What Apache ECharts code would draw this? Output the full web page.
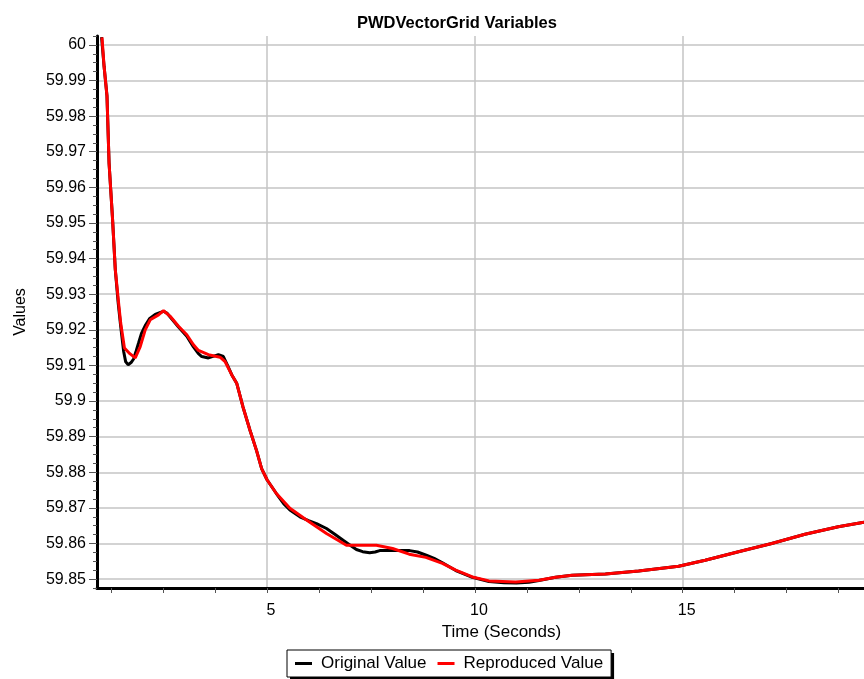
<!DOCTYPE html>
<html>
<head>
<meta charset="utf-8">
<script src="https://cdn.jsdelivr.net/npm/echarts@6/dist/echarts.min.js"></script>
<style>
html, body { margin: 0; padding: 0; background: #fff; }
#chart { width: 864px; height: 679px; }
</style>
</head>
<body>
<div id="chart"></div>
<script>
// time (s) / value pairs
var origTime = [1.02, 1.08, 1.15, 1.20, 1.28, 1.35, 1.42, 1.48, 1.55, 1.60, 1.66, 1.73, 1.79, 1.85, 1.91, 1.98,
    2.07, 2.18, 2.31, 2.42, 2.51, 2.60, 2.67, 2.87, 3.07, 3.23, 3.35, 3.43, 3.59, 3.72, 3.83, 3.95,
    4.05, 4.15, 4.27, 4.42, 4.59, 4.75, 4.87, 5.00, 5.22, 5.40, 5.55, 5.79, 6.00, 6.19, 6.43, 6.63,
    6.83, 7.00, 7.15, 7.30, 7.47, 7.60, 7.71, 8.00, 8.43, 8.62, 8.83, 9.02, 9.22, 9.54, 9.94, 10.34,
    10.70, 11.00, 11.30, 11.54, 11.94, 12.34, 13.14, 13.94, 14.90, 15.54, 16.34, 17.14, 17.94, 18.74, 19.36];
var origValue = [60.0022, 59.9940, 59.9857, 59.9669, 59.9519, 59.9369, 59.9275, 59.9210, 59.9140, 59.9110, 59.9102, 59.9108, 59.9118, 59.9140, 59.9163, 59.9190,
    59.9212, 59.9232, 59.9243, 59.9248, 59.9252, 59.9246, 59.9236, 59.9208, 59.9182, 59.9152, 59.9133, 59.9125, 59.9121, 59.9126, 59.9130, 59.9125,
    59.9100, 59.9074, 59.9050, 59.8984, 59.8918, 59.8860, 59.8810, 59.8779, 59.8741, 59.8712, 59.8694, 59.8675, 59.8664, 59.8656, 59.8642, 59.8626,
    59.8609, 59.8595, 59.8583, 59.8577, 59.8574, 59.8576, 59.8580, 59.8580, 59.8580, 59.8576, 59.8567, 59.8558, 59.8546, 59.8524, 59.8505, 59.8493,
    59.8490, 59.8489, 59.8491, 59.8496, 59.8505, 59.8511, 59.8514, 59.8523, 59.8536, 59.8553, 59.8577, 59.8600, 59.8626, 59.8647, 59.8660];

var reprTime = [1.03, 1.08, 1.15, 1.20, 1.28, 1.35, 1.43, 1.48, 1.57, 1.70, 1.83, 1.95, 2.07, 2.19, 2.39, 2.51,
    2.67, 2.87, 3.07, 3.23, 3.35, 3.59, 3.87, 3.99, 4.15, 4.27, 4.42, 4.59, 4.75, 4.87, 5.00, 5.22,
    5.55, 5.95, 6.43, 6.91, 7.30, 7.63, 8.02, 8.42, 8.82, 9.22, 9.54, 9.94, 10.34, 10.98, 11.54, 11.94,
    12.34, 13.14, 13.94, 14.90, 15.54, 16.34, 17.14, 17.94, 18.74, 19.36];
var reprValue = [60.0021, 59.9940, 59.9857, 59.9669, 59.9519, 59.9369, 59.9275, 59.9219, 59.9149, 59.9133, 59.9121, 59.9153, 59.9200, 59.9228, 59.9242, 59.9254,
    59.9238, 59.9210, 59.9186, 59.9158, 59.9142, 59.9130, 59.9123, 59.9111, 59.9074, 59.9050, 59.8984, 59.8918, 59.8860, 59.8810, 59.8779, 59.8741,
    59.8699, 59.8666, 59.8628, 59.8595, 59.8595, 59.8595, 59.8586, 59.8570, 59.8561, 59.8544, 59.8525, 59.8506, 59.8495, 59.8492, 59.8497, 59.8505,
    59.8511, 59.8514, 59.8523, 59.8536, 59.8553, 59.8577, 59.8600, 59.8626, 59.8647, 59.8660];

var yLabels = [59.85, 59.86, 59.87, 59.88, 59.89, 59.9, 59.91, 59.92, 59.93, 59.94, 59.95, 59.96, 59.97, 59.98, 59.99, 60];
var xLabels = [5, 10, 15];
var xTicks = [1.25, 2.5, 3.75, 5, 6.25, 7.5, 8.75, 10, 11.25, 12.5, 13.75, 15, 16.25, 17.5, 18.75];

var yMinorTicks = [];
for (var k = 0; k <= 62; k++) {
    yMinorTicks.push(+(59.8475 + k * 0.0025).toFixed(4));
}

function pairs(xs, ys) {
    return xs.map(function (x, i) { return [x, ys[i]]; });
}

var font = "'Liberation Sans', Arial, sans-serif";
var xMin = 0.91, xMax = 19.36, yMin = 59.8475, yMax = 60.0025;
var seriesNames = ['Original Value', 'Reproduced Value'];

// shared legend layout; drawn twice so the shadow doesn't double the border line
var legendBase = {
    data: seriesNames,
    left: 287,
    top: 650,
    icon: 'rect',
    itemWidth: 17,
    itemHeight: 3,
    itemGap: 11,
    padding: [5, 8, 5, 8],
    selectedMode: false
};

var option = {
    animation: false,
    backgroundColor: '#fff',
    textStyle: { fontFamily: font },
    title: {
        text: 'PWDVectorGrid Variables',
        left: 352,
        top: 10,
        textStyle: { fontSize: 16.5, fontWeight: 'bold', color: '#000', fontFamily: font }
    },
    legend: [
        Object.assign({}, legendBase, {
            backgroundColor: '#fff',
            borderWidth: 0,
            shadowColor: '#000',
            shadowBlur: 0,
            shadowOffsetX: 3,
            shadowOffsetY: 3,
            textStyle: { fontSize: 17, color: '#000', fontFamily: font, padding: [0, 0, 0, 4] }
        }),
        Object.assign({}, legendBase, {
            backgroundColor: 'transparent',
            borderColor: '#000',
            borderWidth: 1,
            itemStyle: { color: 'rgba(0,0,0,0)' },
            textStyle: { fontSize: 17, color: 'rgba(0,0,0,0)', fontFamily: font, padding: [0, 0, 0, 4] }
        })
    ],
    grid: { left: 97, right: 0, top: 36, bottom: 91, containLabel: false, outerBoundsMode: 'none' },
    xAxis: [
        {
            type: 'value', position: 'bottom', min: xMin, max: xMax,
            name: 'Time (Seconds)', nameLocation: 'middle', nameGap: 32,
            nameTextStyle: { fontSize: 17, color: '#000', fontFamily: font, padding: [0, 0, 0, 42] },
            axisLine: { show: true, lineStyle: { color: '#000', width: 3 } },
            axisTick: { show: true, customValues: xTicks, length: 5, lineStyle: { color: '#555', width: 1 } },
            axisLabel: { customValues: xLabels, fontSize: 16, color: '#000', margin: 15, padding: [0, 0, 0, 8] },
            splitLine: { show: false }
        },
        {
            type: 'value', position: 'bottom', min: xMin, max: xMax, splitNumber: 4,
            axisLine: { show: false },
            axisTick: { show: false, customValues: xLabels },
            axisLabel: { show: false },
            splitLine: { show: true, lineStyle: { color: '#c4c4c4', width: 1.5 } }
        }
    ],
    yAxis: [
        {
            type: 'value', position: 'left', min: yMin, max: yMax,
            name: 'Values', nameLocation: 'middle', nameGap: 68,
            nameTextStyle: { fontSize: 16, color: '#000', fontFamily: font },
            axisLine: { show: true, lineStyle: { color: '#000', width: 3 } },
            axisTick: { show: true, customValues: yLabels, length: 8, lineStyle: { color: '#555', width: 1 } },
            axisLabel: { customValues: yLabels, fontSize: 16, color: '#000', margin: 11 },
            splitLine: { show: true, lineStyle: { color: '#c4c4c4', width: 1.5 } }
        },
        {
            type: 'value', position: 'left', min: yMin, max: yMax,
            axisLine: { show: false },
            axisTick: { show: true, customValues: yMinorTicks, length: 4, lineStyle: { color: '#555', width: 1 } },
            axisLabel: { show: false },
            splitLine: { show: false }
        }
    ],
    series: [
        {
            name: seriesNames[0], type: 'line', xAxisIndex: 0, yAxisIndex: 0,
            data: pairs(origTime, origValue),
            showSymbol: false, symbol: 'none',
            lineStyle: { color: '#000', width: 3 },
            itemStyle: { color: '#000' }
        },
        {
            name: seriesNames[1], type: 'line', xAxisIndex: 0, yAxisIndex: 0,
            data: pairs(reprTime, reprValue),
            showSymbol: false, symbol: 'none',
            lineStyle: { color: '#ff0000', width: 3 },
            itemStyle: { color: '#ff0000' }
        }
    ]
};

var myChart = echarts.init(document.getElementById('chart'));
myChart.setOption(option);
</script>
</body>
</html>
